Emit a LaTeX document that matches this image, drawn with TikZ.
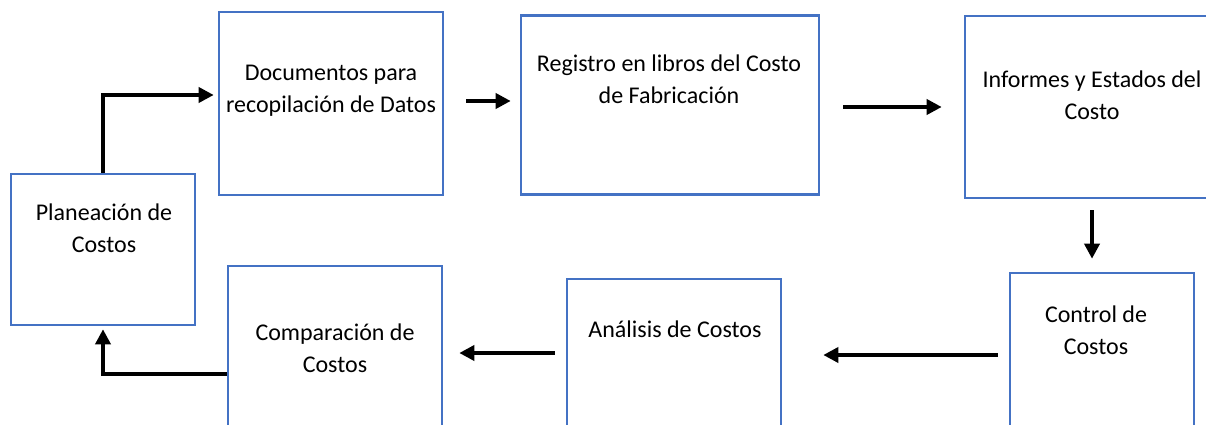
\documentclass[tikz,border=0pt]{standalone}
\usepackage{fontspec}
\setmainfont{Carlito}
\usetikzlibrary{arrows.meta,calc}
\definecolor{boxblue}{HTML}{4472C4}
\tikzset{
  box/.style={draw=boxblue, line width=2.6pt, fill=none, inner sep=0pt},
  lbl/.style={align=center, font=\fontsize{24}{32}\selectfont, inner sep=0pt},
  arr/.style={line width=3.6pt, -{Triangle[length=15pt,width=15pt]}}
}
\begin{document}
\begin{tikzpicture}[x=1pt,y=-1pt]
\useasboundingbox (0,0) rectangle (1206,425);
\fill[white] (0,0) rectangle (1206,425);
\begin{scope}
\clip (0,0) rectangle (1206,425);
% boxes
\node[box, minimum width=184pt, minimum height=151pt] (plan) at (103,249.5) {};
\node[box, minimum width=224pt, minimum height=183pt] (doc) at (331,103.5) {};
\node[box, minimum width=298pt, minimum height=179pt] (reg) at (670,105) {};
\node[box, minimum width=260pt, minimum height=182pt] (inf) at (1095,107) {};
\node[box, minimum width=184pt, minimum height=180pt] (con) at (1102,363) {};
\node[box, minimum width=214pt, minimum height=170pt] (ana) at (674,364) {};
\node[box, minimum width=214pt, minimum height=180pt] (com) at (335,356) {};
% texts
\node[lbl] (tplan) at (104,228) {Planeación de\\Costos};
\node[lbl] (tdoc) at (331,91) {Documentos para\\recopilación de Datos};
\node[lbl] (treg) at (669,79) {Registro en libros del Costo\\de Fabricación};
\node[lbl] (tinf) at (1092,95) {Informes y Estados del\\Costo};
\node[lbl] (tcon) at (1096,330) {Control de\\Costos};
\node[lbl] (tana) at (675,329) {Análisis de Costos};
\node[lbl] (tcom) at (335,348) {Comparación de\\Costos};
% connectors
\draw[arr, shorten >=4pt] (plan.north) |- ([yshift=8.5pt]doc.west);
\draw[arr, shorten <=22pt, shorten >=9pt] ([yshift=2.5pt]doc.east) -- ([yshift=2.5pt]doc.east -| reg.west);
\draw[arr, shorten <=23pt, shorten >=22pt] ([yshift=-2pt]reg.east) -- ([yshift=-2pt]reg.east -| inf.west);
\draw[arr, shorten <=11pt, shorten >=13pt] ([xshift=-10pt]con.north |- inf.south) -- ([xshift=-10pt]con.north);
\draw[arr, shorten <=11pt, shorten >=41pt] ([yshift=8pt]con.west) -- ([yshift=8pt]con.west -| ana.east);
\draw[arr, shorten <=11pt, shorten >=16pt] ([yshift=11pt]ana.west) -- ([yshift=11pt]ana.west -| com.east);
\draw[arr, shorten >=3pt] ([yshift=-18pt]com.west) -| (plan.south);
\end{scope}
\end{tikzpicture}
\end{document}
